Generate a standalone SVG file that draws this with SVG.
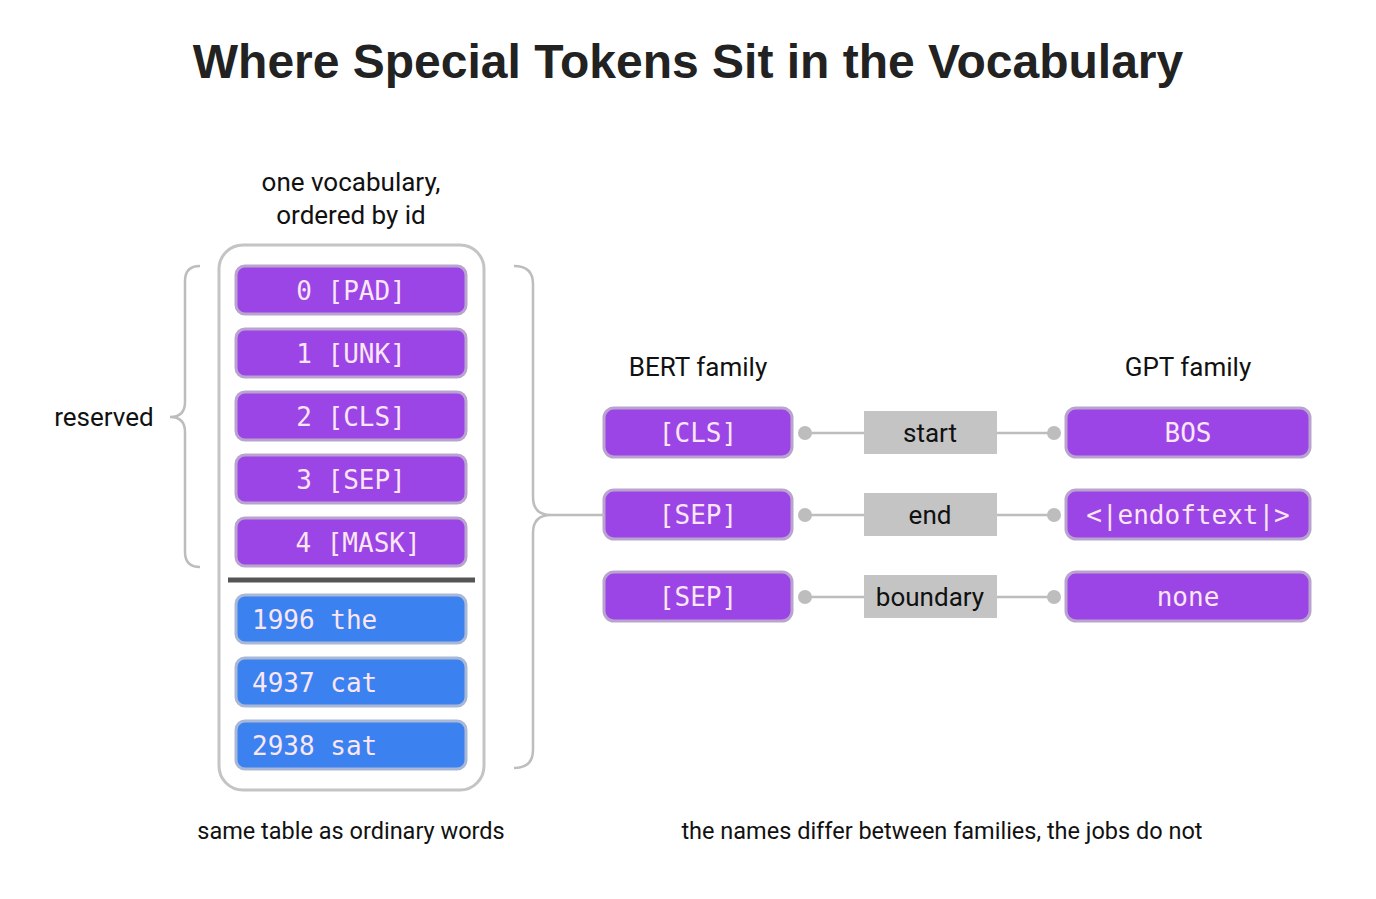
<svg xmlns="http://www.w3.org/2000/svg" width="1376" height="899" viewBox="0 0 1376 899">
<style>
.t{font-family:Roboto,"Liberation Sans",sans-serif;fill:#111}
.p{fill:#9b45e6;stroke:#b9a3cf;stroke-width:3}
.b{fill:#3b82f0;stroke:#a9b8d6;stroke-width:3}
.m{font-family:"DejaVu Sans Mono","Liberation Mono",monospace;font-size:26px;fill:#fbe6f6}
.br{fill:none;stroke:#bdbdbd;stroke-width:2.5}
.c{stroke:#bdbdbd;stroke-width:2.5}
.d{fill:#bdbdbd}
.lb{fill:#c4c4c4}
</style>
<rect width="1376" height="899" fill="#fff"/>
<text x="688" y="78" text-anchor="middle" style="font-family:'Liberation Sans',Arial,sans-serif;font-size:48px;font-weight:bold;fill:#222">Where Special Tokens Sit in the Vocabulary</text>
<text x="351" y="191" text-anchor="middle" class="t" font-size="26">one vocabulary,</text>
<text x="351" y="224" text-anchor="middle" class="t" font-size="26">ordered by id</text>
<text x="104" y="426" text-anchor="middle" class="t" font-size="26">reserved</text>
<text x="351" y="839" text-anchor="middle" class="t" font-size="23.5">same table as ordinary words</text>
<text x="942" y="839" text-anchor="middle" class="t" font-size="23.5">the names differ between families, the jobs do not</text>
<text x="698" y="376" text-anchor="middle" class="t" font-size="26">BERT family</text>
<text x="1188" y="376" text-anchor="middle" class="t" font-size="26">GPT family</text>
<g id="vocab"><rect x="219" y="245" width="265" height="545" rx="24" fill="none" stroke="#c4c4c4" stroke-width="3"/>
<line x1="228" y1="580" x2="475" y2="580" stroke="#555" stroke-width="5"/></g>
<g id="pad"><rect class="p" x="236" y="266" width="230" height="48" rx="9"/><text class="m" x="351" y="300" text-anchor="middle">0 [PAD]</text></g>
<g id="unk"><rect class="p" x="236" y="329" width="230" height="48" rx="9"/><text class="m" x="351" y="363" text-anchor="middle">1 [UNK]</text></g>
<g id="cls"><rect class="p" x="236" y="392" width="230" height="48" rx="9"/><text class="m" x="351" y="426" text-anchor="middle">2 [CLS]</text></g>
<g id="sep"><rect class="p" x="236" y="455" width="230" height="48" rx="9"/><text class="m" x="351" y="489" text-anchor="middle">3 [SEP]</text></g>
<g id="mask"><rect class="p" x="236" y="518" width="230" height="48" rx="9"/><text class="m" x="358" y="552" text-anchor="middle">4 [MASK]</text></g>
<g id="the"><rect class="b" x="236" y="595" width="230" height="48" rx="9"/><text class="m" x="252" y="629">1996 the</text></g>
<g id="cat"><rect class="b" x="236" y="658" width="230" height="48" rx="9"/><text class="m" x="252" y="692">4937 cat</text></g>
<g id="sat"><rect class="b" x="236" y="721" width="230" height="48" rx="9"/><text class="m" x="252" y="755">2938 sat</text></g>
<g id="bert-cls"><rect class="p" x="604" y="408" width="188" height="49" rx="10"/><text class="m" x="698" y="442" text-anchor="middle">[CLS]</text></g>
<g id="bert-sep1"><rect class="p" x="604" y="490" width="188" height="49" rx="10"/><text class="m" x="698" y="524" text-anchor="middle">[SEP]</text></g>
<g id="bert-sep2"><rect class="p" x="604" y="572" width="188" height="49" rx="10"/><text class="m" x="698" y="606" text-anchor="middle">[SEP]</text></g>
<g id="gpt-bos"><rect class="p" x="1066" y="408" width="244" height="49" rx="10"/><text class="m" x="1188" y="442" text-anchor="middle">BOS</text></g>
<g id="gpt-eot"><rect class="p" x="1066" y="490" width="244" height="49" rx="10"/><text class="m" x="1188" y="524" text-anchor="middle">&lt;|endoftext|&gt;</text></g>
<g id="gpt-none"><rect class="p" x="1066" y="572" width="244" height="49" rx="10"/><text class="m" x="1188" y="606" text-anchor="middle">none</text></g>
<g id="connectors">
<path class="br" d="M200 266 Q185 266 185 281 L185 402 Q185 417 170 417 Q185 417 185 432 L185 552 Q185 567 200 567"/>
<path class="br" d="M514 266 Q533 266 533 284 L533 497 Q533 515 551 515 L604 515 M551 515 Q533 515 533 533 L533 750 Q533 768 514 768"/>
<g id="row1"><line class="c" x1="805" y1="433" x2="864" y2="433"/><line class="c" x1="997" y1="433" x2="1054" y2="433"/><circle class="d" cx="805" cy="433" r="7"/><circle class="d" cx="1054" cy="433" r="7"/><rect class="lb" x="864" y="411" width="133" height="43"/><text x="930" y="442" text-anchor="middle" class="t" font-size="26">start</text></g>
<g id="row2"><line class="c" x1="805" y1="515" x2="864" y2="515"/><line class="c" x1="997" y1="515" x2="1054" y2="515"/><circle class="d" cx="805" cy="515" r="7"/><circle class="d" cx="1054" cy="515" r="7"/><rect class="lb" x="864" y="493" width="133" height="43"/><text x="930" y="524" text-anchor="middle" class="t" font-size="26">end</text></g>
<g id="row3"><line class="c" x1="805" y1="597" x2="864" y2="597"/><line class="c" x1="997" y1="597" x2="1054" y2="597"/><circle class="d" cx="805" cy="597" r="7"/><circle class="d" cx="1054" cy="597" r="7"/><rect class="lb" x="864" y="575" width="133" height="43"/><text x="930" y="606" text-anchor="middle" class="t" font-size="26">boundary</text></g>
</g>
</svg>
